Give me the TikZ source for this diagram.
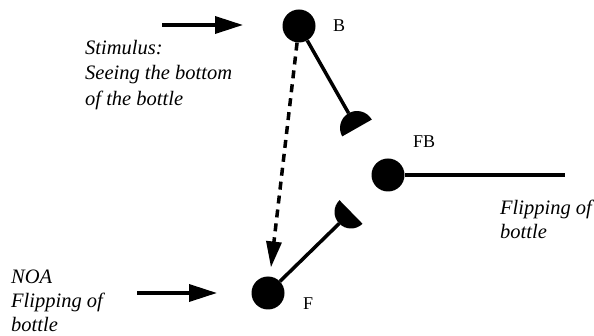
\documentclass[tikz,border=0pt]{standalone}
\usepackage{fontspec}
\setmainfont{Liberation Serif}[ItalicFont={Liberation Serif Italic}]
\usetikzlibrary{arrows.meta,calc}
\begin{document}
\begin{tikzpicture}[x=1pt,y=-1pt,
  neuron/.style={circle,fill=black,inner sep=0pt,minimum size=33pt},
  axon/.style={line width=3.5pt},
  inarrow/.style={line width=3.5pt,-{Triangle[length=28pt,width=17pt]}},
  lbl/.style={font=\fontsize{18}{20}\selectfont,inner sep=0pt,anchor=base west},
  txt/.style={font=\fontsize{20.5}{24}\selectfont\itshape,inner sep=0pt,anchor=base west}]
\useasboundingbox (0,0) rectangle (594,336);
% neurons
\node[neuron] (B) at (299,26) {};
\node[neuron] (FB) at (388,175) {};
\node[neuron] (F) at (268,293) {};
% terminal buttons
\coordinate (s1) at (357,128);
\coordinate (s1tip) at ($(s1)+(240.4:17)$);
\fill (s1) ++(150.4:17) arc[start angle=150.4,end angle=330.4,radius=17] -- cycle;
\coordinate (s2) at (351,212);
\coordinate (s2tip) at ($(s2)+(135.7:16.5)$);
\fill (s2) ++(45.7:16.5) arc[start angle=45.7,end angle=225.7,radius=16.5] -- cycle;
% connectors
\draw[axon] (B) -- (s1tip);
\draw[axon] (F) -- (s2tip);
\coordinate (FBend) at (565,175);
\draw[axon] (FB) -- (FBend);
\draw[line width=3.5pt,dash pattern=on 8pt off 6pt,-{Triangle[length=26pt,width=15pt]},shorten >=9pt] (B) -- (F);
% inputs
\coordinate (a1) at (162,25);
\coordinate (a2) at (243,25);
\draw[inarrow] (a1) -- (a2);
\coordinate (b1) at (137,293);
\coordinate (b2) at (217,293);
\draw[inarrow] (b1) -- (b2);
% labels
\node[lbl] (lB) at (333,32) {B};
\node[lbl] (lFB) at (413,148) {FB};
\node[lbl] (lF) at (303,310) {F};
% texts
\node[txt] (t1) at (85,55) {Stimulus:};
\node[txt] (t2) at (85,80) {Seeing the bottom};
\node[txt] (t3) at (85,106) {of the bottle};
\node[txt] (t4) at (11,284) {NOA};
\node[txt] (t5) at (11,308) {Flipping of};
\node[txt] (t6) at (11,331) {bottle};
\node[txt] (t7) at (500,215) {Flipping of};
\node[txt] (t8) at (500,239) {bottle};
\end{tikzpicture}
\end{document}
